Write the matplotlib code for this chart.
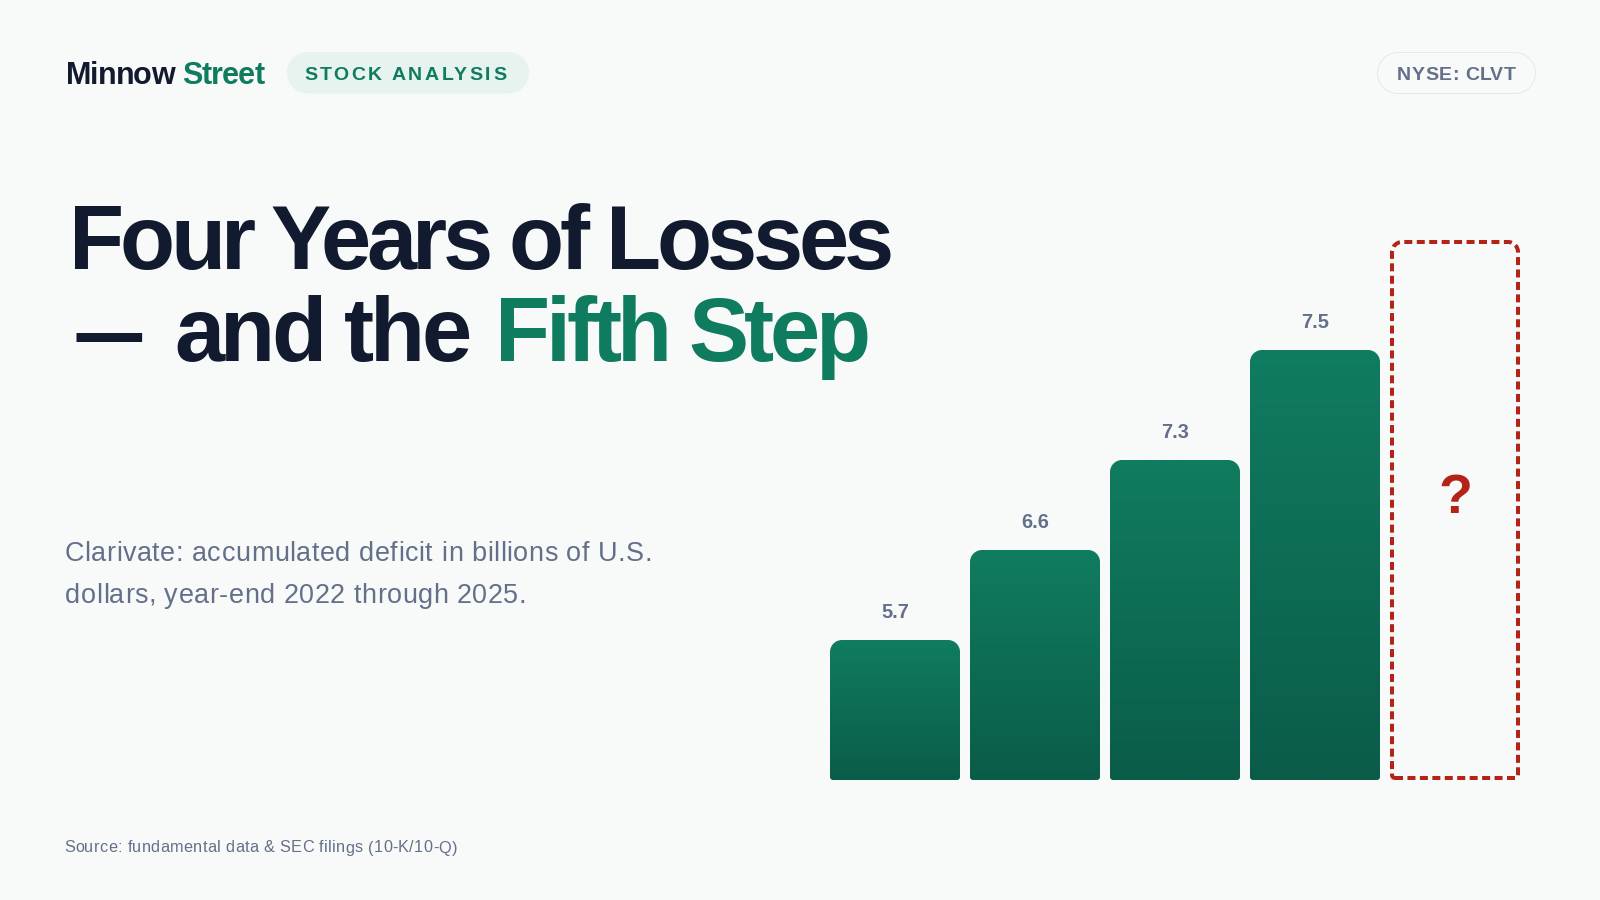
import numpy as np
import matplotlib
matplotlib.use("Agg")
import matplotlib.pyplot as plt
from matplotlib.path import Path
from matplotlib.patches import PathPatch
from matplotlib.text import Text

years = ["2022", "2023", "2024", "2025"]
deficit = [5.7, 6.6, 7.3, 7.5]
# the steps in the picture are not proportional to the values
step_heights = [140, 230, 320, 430]
unknown_height = 540
unknown_label = "?"

BG = "#f8faf9"
INK = "#111a2e"
GREEN = "#0f7b5f"
GREY = "#64708a"
RED = "#b42318"


class TrackedText(Text):
    """ One text artist drawn with CSS style letter spacing, in pixels """

    def __init__(self, x, y, s, tracking=0, **kw):
        super().__init__(x, y, s, **kw)
        self.tracking = tracking

    def draw(self, renderer):
        s, x0 = self.get_text(), self._x
        fp = self.get_fontproperties()
        width = lambda t: renderer.get_text_width_height_descent(t, fp, False)[0]
        for i, ch in enumerate(s):
            if ch == " ":
                continue
            self._text = ch
            self._x = x0 + width(s[:i + 1]) - width(ch) + i * self.tracking
            super().draw(renderer)
        self._text, self._x = s, x0


def rounded_bar(x, y, w, h, top_r, bot_r):
    """ Rectangle path with separate radii for the top and bottom corners """
    k = 0.5523
    verts = [
        (x + bot_r, y), (x + w - bot_r, y),
        (x + w - bot_r * (1 - k), y), (x + w, y + bot_r * (1 - k)), (x + w, y + bot_r),
        (x + w, y + h - top_r),
        (x + w, y + h - top_r * (1 - k)), (x + w - top_r * (1 - k), y + h), (x + w - top_r, y + h),
        (x + top_r, y + h),
        (x + top_r * (1 - k), y + h), (x, y + h - top_r * (1 - k)), (x, y + h - top_r),
        (x, y + bot_r),
        (x, y + bot_r * (1 - k)), (x + bot_r * (1 - k), y), (x + bot_r, y),
        (x + bot_r, y),
    ]
    codes = [Path.MOVETO, Path.LINETO, Path.CURVE4, Path.CURVE4, Path.CURVE4, Path.LINETO,
             Path.CURVE4, Path.CURVE4, Path.CURVE4, Path.LINETO,
             Path.CURVE4, Path.CURVE4, Path.CURVE4, Path.LINETO,
             Path.CURVE4, Path.CURVE4, Path.CURVE4, Path.CLOSEPOLY]
    return Path(verts, codes)


def put(x, y, s, size, color, tracking=0, family="Liberation Sans", weight="bold"):
    page.add_artist(TrackedText(x, y, s, tracking=tracking, fontsize=size, color=color, family=family,
                                weight=weight, va="baseline", ha="left"))


fig = plt.figure(figsize=(16, 9), dpi=100, facecolor=BG)

# page layer in pixel units
page = fig.add_axes([0, 0, 1, 1])
page.set_xlim(0, 1600)
page.set_ylim(900, 0)
page.axis("off")

put(66, 84, "Minnow", 22, INK, tracking=-1)
put(182, 84, "Street", 22, GREEN, tracking=-0.8)

page.add_patch(PathPatch(rounded_bar(287, 52, 242, 41.5, 20.7, 20.7), fc="#e7f3ef", ec="none"))
put(304, 80, "STOCK ANALYSIS", 14, GREEN, tracking=2.5)

page.add_patch(PathPatch(rounded_bar(1377.5, 52.5, 158, 41, 20.5, 20.5), fc=BG, ec="#e5e9ec", lw=0.72))
put(1397, 80, "NYSE: CLVT", 14, GREY, tracking=0.45)

put(69, 269, "Four Years of Losses", 65, INK, tracking=-4.56)
put(70, 366, "\u2014", 69, INK, family="Lato", weight="black")
put(174, 361, "and the", 65, INK, tracking=-3.9)
put(495, 361, "Fifth Step", 65, GREEN, tracking=-4.55)

put(64.5, 561, "Clarivate: accumulated deficit in billions of U.S.", 19.44, GREY, tracking=0.53,
    family="Liberation Sans", weight="normal")
put(65, 603, "dollars, year-end 2022 through 2025.", 19.44, GREY, tracking=0.53, family="Liberation Sans",
    weight="normal")
put(64, 852.5, "Source: fundamental data & SEC filings (10-K/10-Q)", 11.7, GREY, tracking=0.33,
    family="Liberation Sans", weight="normal")

# chart layer
ax = fig.add_axes([830 / 1600, 120 / 900, 690 / 1600, 540 / 900])
ax.patch.set_alpha(0)
ax.axis("off")

gradient = np.linspace(0, 1, 256).reshape(-1, 1)
cmap = matplotlib.colors.LinearSegmentedColormap.from_list("bar", ["#0a5c49", "#107c60"])

slot = 140
bar_w = 130
for i, (val, h) in enumerate(zip(deficit, step_heights)):
    x = i * slot
    im = ax.imshow(gradient, extent=(x, x + bar_w, 0, h), origin="lower", aspect="auto", cmap=cmap, zorder=2)
    clip = PathPatch(rounded_bar(x, 0, bar_w, h, 12, 3), transform=ax.transData, fc="none", ec="none")
    ax.add_patch(clip)
    im.set_clip_path(clip)
    ax.text(x + bar_w / 2, h + 27, f"{val:.1f}", ha="center", va="center", fontsize=14.4, family="Liberation Sans",
            weight="bold", color=GREY)

x = len(deficit) * slot
lw = 2.88
ax.add_patch(PathPatch(rounded_bar(x + 2, 2, bar_w - 4, unknown_height - 4, 10, 3), fc="none", ec=RED, lw=lw,
                       linestyle=(0, (5.76 / lw, 3.2 / lw)), clip_on=False))
ax.text(x + bar_w / 2, 281, unknown_label, ha="center", va="center", fontsize=40, family="Liberation Sans",
        weight="bold", color=RED)

ax.set_xlim(0, 690)
ax.set_ylim(0, 540)

fig.savefig("out.png", dpi=100, facecolor=BG)
